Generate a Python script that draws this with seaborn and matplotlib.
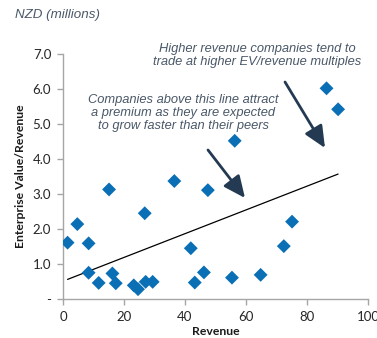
import matplotlib
matplotlib.use("Agg")
import matplotlib.pyplot as plt
import seaborn as sns
import pandas as pd

# Company revenue (NZD millions) vs EV/Revenue multiple
revenue = [1.5, 4.7, 8.4, 8.4, 11.7, 15.1, 16.2, 17.3, 23.2, 24.6, 26.8, 27.1,
           29.4, 36.5, 41.9, 43.2, 46.2, 47.5, 55.4, 56.3, 64.8, 72.4, 75.1,
           86.4, 90.2]
ev_revenue = [1.61, 2.14, 1.59, 0.75, 0.46, 3.13, 0.73, 0.45, 0.39, 0.28, 2.45,
              0.49, 0.49, 3.37, 1.45, 0.47, 0.76, 3.11, 0.61, 4.52, 0.69, 1.51,
              2.21, 6.02, 5.42]

# Trend line endpoints
trend_x = [1.5, 90.2]
trend_y = [0.56, 3.57]

x_ticks = [0, 20, 40, 60, 80, 100]
y_ticks = [0, 1, 2, 3, 4, 5, 6, 7]
y_tick_labels = ["-", "1.0", "2.0", "3.0", "4.0", "5.0", "6.0", "7.0"]

df = pd.DataFrame({"Revenue": revenue, "EV/Revenue": ev_revenue})

sns.set_theme(style="white")
plt.rcParams["font.family"] = ["Lato", "DejaVu Sans"]

fig = plt.figure(figsize=(3.77, 3.38), dpi=100)
ax = fig.add_axes([63 / 377, 1 - 299 / 338, 305 / 377, 245 / 338])

sns.scatterplot(data=df, x="Revenue", y="EV/Revenue", marker="D", s=50,
                color="#0a6fb5", edgecolor="none", ax=ax, zorder=3)
sns.lineplot(x=trend_x, y=trend_y, color="black", linewidth=0.9, ax=ax, zorder=2)

ax.set_xlim(0, 100)
ax.set_ylim(0, 7)
ax.set_xticks(x_ticks)
ax.set_yticks(y_ticks)
ax.set_yticklabels(y_tick_labels)

spine_color = "#a6a6a6"
for side in ["top", "right"]:
    ax.spines[side].set_visible(False)
for side in ["left", "bottom"]:
    ax.spines[side].set_color(spine_color)
    ax.spines[side].set_linewidth(1.0)
ax.tick_params(axis="both", which="major", length=4.5, width=1.0, color=spine_color,
               labelsize=9.5, labelcolor="#262626", direction="out", pad=4)
ax.tick_params(axis="x", bottom=True)
ax.tick_params(axis="y", left=True)

ax.set_xlabel("Revenue", fontsize=8.8, fontweight="bold", color="#1a1a1a", labelpad=2)
ax.set_ylabel("Enterprise Value/Revenue", fontsize=8.8, fontweight="bold",
              color="#1a1a1a", labelpad=5)

text_color = "#4a5868"
fig.text(15 / 377, 1 - 15 / 338, "NZD (millions)", fontsize=9.6, style="italic",
         color=text_color, ha="left", va="center", family=["Liberation Sans"])
ax.annotate("Higher revenue companies tend to\ntrade at higher EV/revenue multiples",
            xy=(257 / 377, 1 - 55.5 / 338), xycoords="figure fraction",
            ha="center", va="center", fontsize=9.3, style="italic",
            color=text_color, linespacing=1.1, family=["Liberation Sans"])
ax.annotate("Companies above this line attract\na premium as they are expected\nto grow faster than their peers",
            xy=(183 / 377, 1 - 113 / 338), xycoords="figure fraction",
            ha="center", va="center", fontsize=9.3, style="italic",
            color=text_color, linespacing=1.1, family=["Liberation Sans"])

arrow_color = "#243a52"
arrow_props = dict(arrowstyle="-|>,head_length=1.1,head_width=0.5",
                   color=arrow_color, lw=2.0, shrinkA=0, shrinkB=0)
ax.annotate("", xy=(325 / 377, 1 - 148 / 338), xytext=(285 / 377, 1 - 82 / 338),
            xycoords="figure fraction", textcoords="figure fraction",
            arrowprops=arrow_props)
ax.annotate("", xy=(245 / 377, 1 - 198 / 338), xytext=(208 / 377, 1 - 150 / 338),
            xycoords="figure fraction", textcoords="figure fraction",
            arrowprops=arrow_props)

fig.savefig("out.png", dpi=100)
